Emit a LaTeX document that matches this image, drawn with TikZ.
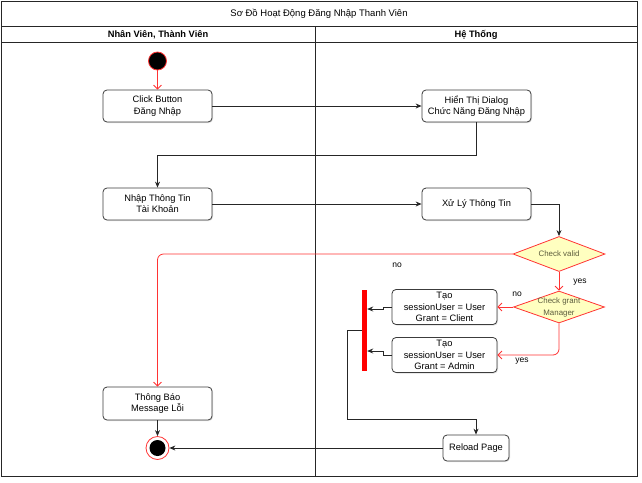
\documentclass[tikz,border=0pt]{standalone}
\usepackage{fontspec}
\setmainfont{Liberation Sans}
\usetikzlibrary{shapes.geometric,arrows.meta,shadows}
\definecolor{lred}{HTML}{FF3333}
\definecolor{dfill}{HTML}{FFFFC0}
\definecolor{dtxt}{HTML}{5C5C3D}
\definecolor{lineC}{HTML}{262626}
\tikzset{
  act/.style={draw=lineC!90, fill=white, rounded corners=4pt, align=center,
    inner sep=1pt, font=\fontsize{9.3}{11.2}\selectfont, line width=0.8pt,
    drop shadow={shadow xshift=1pt, shadow yshift=-1pt, opacity=0.25}},
  diam/.style={diamond, draw=lred, fill=dfill, inner sep=0pt, line width=0.8pt},
  dtext/.style={text=dtxt, align=center, font=\fontsize{7.9}{12}\selectfont},
  flow/.style={draw=lineC, line width=0.8pt, -{Stealth[length=6pt,width=5pt]}},
  rflow/.style={draw=lred, line width=0.8pt, -{Straight Barb[length=4pt,width=8pt]}},
  elabel/.style={fill=white, inner sep=1pt, font=\fontsize{8.5}{10}\selectfont},
}
\begin{document}
\begin{tikzpicture}[x=1pt,y=-1pt]
\useasboundingbox (0,0) rectangle (642,482);
% frame
\draw[draw=lineC, line width=1pt] (1,1) rectangle (637,476);
\draw[draw=lineC, line width=0.8pt] (1,26) -- (637,26);
\draw[draw=lineC, line width=0.8pt] (1,42) -- (637,42);
\draw[draw=lineC, line width=0.8pt] (315,26) -- (315,476);
\node[font=\fontsize{9.5}{11}\selectfont] (title) at (319,14) {Sơ Đồ Hoạt Động Đăng Nhập Thanh Viên};
\node[font=\bfseries\fontsize{9.3}{11}\selectfont] (laneA) at (158,34.5) {Nhân Viên, Thành Viên};
\node[font=\bfseries\fontsize{9.3}{11}\selectfont] (laneB) at (476,34.5) {Hệ Thống};

% nodes
\node[circle, fill=black, draw=lred, line width=0.8pt, minimum size=18pt, inner sep=0pt] (start) at (157.5,61) {};
\node[act, minimum width=109pt, minimum height=32pt] (click) at (157.5,106) {Click Button\\Đăng Nhập};
\node[act, minimum width=109pt, minimum height=32pt] (dialog) at (476.5,106) {Hiển Thị Dialog\\Chức Năng Đăng Nhập};
\node[act, minimum width=109pt, minimum height=32pt] (nhap) at (157.5,204) {Nhập Thông Tin\\Tài Khoản};
\node[act, minimum width=109pt, minimum height=32pt] (xuly) at (476.5,204) {Xử Lý Thông Tin};
\node[diam, minimum width=92pt, minimum height=35pt] (cv) at (559,254) {};
\node[dtext] (cvt) at (cv.center) {Check valid};
\node[diam, minimum width=91pt, minimum height=32pt] (cg) at (559,307) {};
\node[dtext] (cgt) at (cg.center) {Check grant\\Manager};
\node[act, minimum width=105pt, minimum height=35pt] (client) at (444.5,307) {Tạo\\sessionUser = User\\Grant = Client};
\node[act, minimum width=105pt, minimum height=35pt] (admin) at (444.5,355) {Tạo\\sessionUser = User\\Grant = Admin};
\node[fill=red, minimum width=5pt, minimum height=81pt, inner sep=0pt] (bar) at (364.5,330.5) {};
\node[act, minimum width=66pt, minimum height=26pt] (reload) at (476,448) {Reload Page};
\node[act, minimum width=109pt, minimum height=33pt] (tb) at (157.5,403.5) {Thông Báo\\Message Lỗi};
\node[circle, draw=lred, fill=white, line width=0.8pt, minimum size=23pt, inner sep=0pt] (end) at (157.5,448) {};
\node[circle, fill=black, minimum size=16pt, inner sep=0pt] (endin) at (end.center) {};

% connectors
\draw[rflow] (start) -- (click);
\draw[flow] (click.east) -- (dialog.west);
\draw[flow] (dialog.south) -- ++(0,33) -| (nhap.north);
\draw[flow] (nhap.east) -- (xuly.west);
\draw[flow] (xuly.east) -| (cv.north);
\draw[rflow, rounded corners=6pt] (cv.west) -| (tb.north);
\draw[rflow] (cv.south) -- (cg.north);
\draw[rflow] (cg.west) -- (client.east);
\draw[rflow, rounded corners=6pt] (cg.south) |- (admin.east);
\draw[flow] (client.west) -- ++(-8,0) |- ([yshift=-2pt]client.west -| bar.east);
\draw[flow] (admin.west) -- ++(-8,0) |- ([yshift=4pt]admin.west -| bar.east);
\draw[flow] (bar.west) -- (347,330.5) -- (347,419) -| (reload.north);
\draw[flow] (reload.west) -- (end.east);
\draw[flow] (tb.south) -- (end.north);

% labels
\node[elabel] (lno1) at (397,265) {no};
\node[elabel] (lyes1) at (580,282) {yes};
\node[elabel] (lno2) at (517,294) {no};
\node[elabel] (lyes2) at (522,361) {yes};
\end{tikzpicture}
\end{document}
